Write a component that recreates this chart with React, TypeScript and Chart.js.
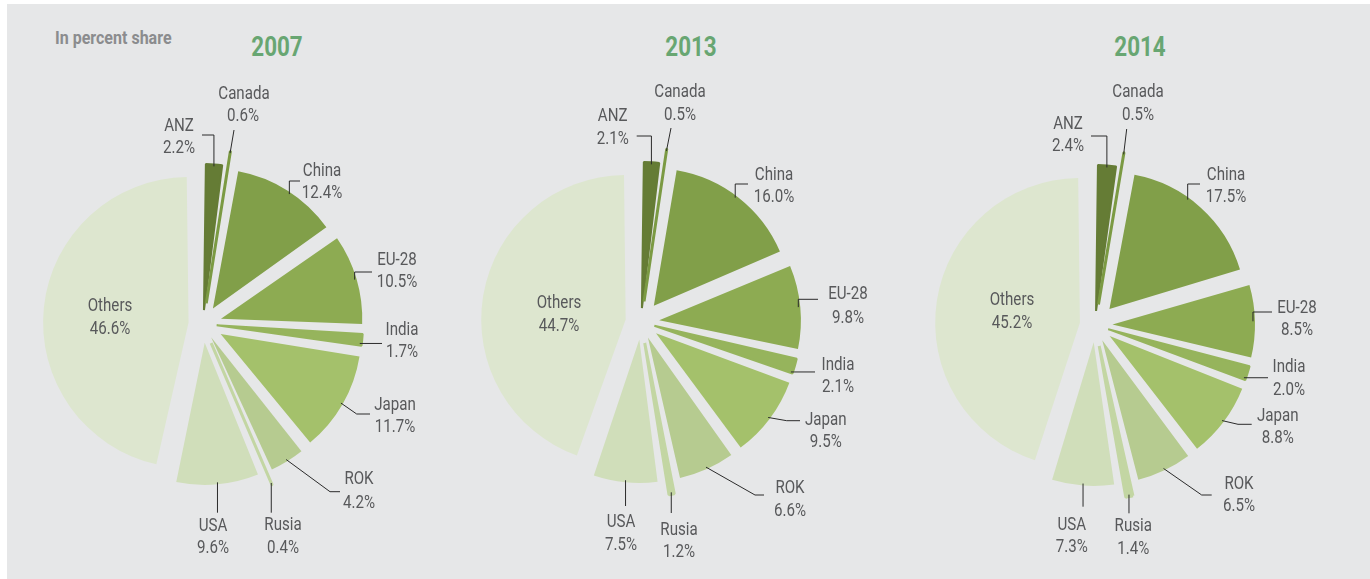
import React, { useEffect, useRef } from "react";
import { Chart, registerables } from "chart.js";

Chart.register(...registerables);

// ---------- data ----------
const categories = ["ANZ", "Canada", "China", "EU-28", "India", "Japan", "ROK", "Rusia", "USA", "Others"];
const years = ["2007", "2013", "2014"];
const values2007 = [2.2, 0.6, 12.4, 10.5, 1.7, 11.7, 4.2, 0.4, 9.6, 46.6];
const values2013 = [2.1, 0.5, 16.0, 9.8, 2.1, 9.5, 6.6, 1.2, 7.5, 44.7];
const values2014 = [2.4, 0.5, 17.5, 8.5, 2.0, 8.8, 6.5, 1.4, 7.3, 45.2];
const subtitle = "In percent share";

// ---------- styles ----------
const sliceColors = ["#657c35", "#7b9a43", "#819f49", "#8dab52", "#96b45c", "#a4c16b", "#b6cb90", "#c3d6a3", "#d0deba", "#dde6cf"];
// same-colour outline that keeps the thin exploded slivers visible
const sliceBorder = [2, 3, 0, 0, 2, 0, 0, 3, 0, 0];
// target distance (px) from pie centre to the outer edge of each exploded slice
const sliceReach = [160, 175, 158, 160, 160, 161, 161, 175, 161, 160];
const baseRadius = 134;
const FONT = "Roboto, 'Liberation Sans', sans-serif";
const SQUEEZE = 0.84;
const TEXT_COLOR = "#58595b";
const LINE_COLOR = "#2b2b2b";

type Seg = { v?: number; h?: number; to?: [number, number] };
type LabelLayout = { name: [number, number]; value: [number, number]; line?: Seg[]; frac?: number };

const centers: [number, number][] = [[203, 324], [641, 322], [1095, 325]];
const titlePos: [number, number][] = [[277, 47], [691, 47], [1140, 47]];

const layout2007: LabelLayout[] = [
  { name: [179, 126], value: [179, 148], line: [{ v: 135 }, { h: 202 }] },
  { name: [244, 94], value: [243, 116], line: [{ to: [234, 130] }] },
  { name: [322, 171], value: [322, 193], line: [{ v: 181 }, { h: 300 }], frac: 0.53 },
  { name: [397, 260], value: [397, 282], line: [{ v: 272 }, { h: 372 }] },
  { name: [402, 330], value: [402, 352], line: [{ h: 382 }], frac: 0.75 },
  { name: [395, 405], value: [395, 427], line: [{ to: [356.7, 414] }, { h: 370 }] },
  { name: [359, 479], value: [359, 503], line: [{ to: [330, 491.7] }, { h: 340 }] },
  { name: [283, 525], value: [283, 548], line: [{ v: 512.7 }] },
  { name: [213, 526], value: [213, 548], line: [{ v: 512.7 }] },
  { name: [110, 306], value: [110, 329] },
];
const layout2013: LabelLayout[] = [
  { name: [612.7, 116.7], value: [612.7, 139], line: [{ v: 136 }, { h: 636.7 }] },
  { name: [680, 92.3], value: [680, 115], line: [{ to: [671, 128] }] },
  { name: [774, 175], value: [774, 197], line: [{ v: 184 }, { h: 748 }], frac: 0.48 },
  { name: [848, 294], value: [848, 318], line: [{ v: 299.3 }, { h: 818 }] },
  { name: [838, 365], value: [838, 387], line: [{ h: 815 }], frac: 0.85 },
  { name: [825.7, 420.7], value: [825.7, 442.7], line: [{ to: [786.7, 420.7] }, { h: 800 }] },
  { name: [790, 488], value: [790, 511], line: [{ to: [755, 495] }, { h: 764 }] },
  { name: [679, 530], value: [679, 552.7], line: [{ v: 513 }] },
  { name: [621, 522.7], value: [621, 545], line: [{ v: 506 }] },
  { name: [559, 303], value: [559, 326] },
];
const layout2014: LabelLayout[] = [
  { name: [1068, 124], value: [1068, 146], line: [{ v: 136 }, { h: 1091 }] },
  { name: [1138, 92.3], value: [1138, 115], line: [{ to: [1126.7, 129] }] },
  { name: [1226, 175], value: [1226, 197.7], line: [{ v: 184 }, { h: 1200 }], frac: 0.4 },
  { name: [1297, 308], value: [1297, 330], line: [{ v: 312 }, { h: 1272 }] },
  { name: [1289, 367.7], value: [1289, 390.7], line: [{ h: 1268 }], frac: 0.8 },
  { name: [1277.7, 416.7], value: [1277.7, 438.3], line: [{ to: [1238, 424.3] }, { h: 1251.7 }] },
  { name: [1239, 484], value: [1239, 506], line: [{ to: [1201.7, 495] }, { h: 1211.7 }] },
  { name: [1133.3, 526.7], value: [1133.3, 549.3], line: [{ v: 513.3 }] },
  { name: [1071.7, 525], value: [1071.7, 547.7], line: [{ v: 506.7 }] },
  { name: [1012, 300], value: [1012, 323] },
];

const seriesValues = [values2007, values2013, values2014];
const layouts = [layout2007, layout2013, layout2014];

const W = 1370;
const H = 579;

function offsetsFor(values: number[]): number[] {
  const total = values.reduce((a, b) => a + b, 0);
  return values.map((v, i) => {
    const circ = (v / total) * Math.PI * 2;
    const fix = 1 - Math.sin(Math.min(Math.PI, circ));
    return (4 * (sliceReach[i] - baseRadius)) / (1 + fix);
  });
}

function drawSqueezed(ctx: CanvasRenderingContext2D, text: string, x: number, y: number) {
  ctx.save();
  ctx.translate(x, y);
  ctx.scale(SQUEEZE, 1);
  ctx.fillText(text, 0, 0);
  ctx.restore();
}

const pieLabelsPlugin = {
  id: "pieLabels",
  afterDraw(chart: any, _args: any, opts: any) {
    const lay: LabelLayout[] = opts.layout;
    const vals: number[] = opts.values;
    if (!lay) return;
    const ctx = chart.ctx as CanvasRenderingContext2D;
    const meta = chart.getDatasetMeta(0);
    ctx.save();
    ctx.strokeStyle = LINE_COLOR;
    ctx.lineWidth = 1;
    meta.data.forEach((el: any, i: number) => {
      const L = lay[i];
      if (!L || !L.line) return;
      const p = el.getProps(["x", "y", "startAngle", "endAngle", "outerRadius", "circumference"], true);
      const off = (el.options.offset || 0) / 4;
      const mid = (p.startAngle + p.endAngle) / 2;
      const fix = 1 - Math.sin(Math.min(Math.PI, p.circumference));
      const tx = p.x + Math.cos(mid) * off;
      const ty = p.y + Math.sin(mid) * off;
      const R = p.outerRadius + off * fix - 2;
      const a = p.startAngle + (p.endAngle - p.startAngle) * (L.frac ?? 0.5);
      let cx = tx + Math.cos(a) * R;
      let cy = ty + Math.sin(a) * R;
      ctx.beginPath();
      ctx.moveTo(cx, cy);
      L.line.forEach((s) => {
        if (s.v !== undefined) cy = s.v;
        else if (s.h !== undefined) cx = s.h;
        else if (s.to) { cx = s.to[0]; cy = s.to[1]; }
        ctx.lineTo(cx, cy);
      });
      ctx.stroke();
    });
    ctx.fillStyle = TEXT_COLOR;
    ctx.font = `18px ${FONT}`;
    ctx.textAlign = "center";
    ctx.textBaseline = "middle";
    lay.forEach((L, i) => {
      drawSqueezed(ctx, categories[i], L.name[0], L.name[1]);
      drawSqueezed(ctx, `${vals[i].toFixed(1)}%`, L.value[0], L.value[1]);
    });
    ctx.restore();
  },
};

function PieCanvas({ index }: { index: number }) {
  const ref = useRef<HTMLCanvasElement | null>(null);
  useEffect(() => {
    if (!ref.current) return;
    const values = seriesValues[index];
    const [cx, cy] = centers[index];
    const half = 200;
    const chart = new Chart(ref.current, {
      type: "pie",
      data: {
        labels: categories,
        datasets: [
          {
            data: values,
            backgroundColor: sliceColors,
            borderColor: sliceColors,
            borderWidth: sliceBorder,
            offset: offsetsFor(values),
          } as any,
        ],
      },
      options: {
        animation: false,
        responsive: false,
        events: [],
        radius: baseRadius,
        layout: {
          padding: { left: cx - half, right: W - cx - half, top: cy - half, bottom: H - cy - half },
        },
        plugins: {
          legend: { display: false },
          tooltip: { enabled: false },
          title: { display: false },
          pieLabels: { layout: layouts[index], values },
        } as any,
      } as any,
      plugins: [pieLabelsPlugin],
    });
    return () => chart.destroy();
  }, [index]);
  return (
    <canvas
      ref={ref}
      width={W}
      height={H}
      style={{ position: "absolute", left: 0, top: 0, width: W, height: H }}
    />
  );
}

export default function App() {
  return (
    <div style={{ position: "fixed", left: 0, top: 0, width: W, height: H, background: "#ffffff", overflow: "hidden" }}>
      <div style={{ position: "absolute", left: 7, top: 4, right: 0, bottom: 0, background: "#e6e7e8" }} />
      <div
        style={{
          position: "absolute",
          left: 55,
          top: 38,
          transform: `translateY(-50%) scaleX(0.89)`,
          transformOrigin: "left center",
          fontFamily: FONT,
          fontWeight: 700,
          fontSize: 18,
          color: "#8b8c8e",
          whiteSpace: "nowrap",
          lineHeight: 1,
        }}
      >
        {subtitle}
      </div>
      {years.map((y, i) => (
        <div
          key={y}
          style={{
            position: "absolute",
            left: titlePos[i][0],
            top: titlePos[i][1],
            transform: `translate(-50%, -50%) scaleX(0.83)`,
            fontFamily: FONT,
            fontWeight: 700,
            fontSize: 27,
            color: "#68a672",
            whiteSpace: "nowrap",
            lineHeight: 1,
          }}
        >
          {y}
        </div>
      ))}
      {years.map((y, i) => (
        <PieCanvas key={y} index={i} />
      ))}
    </div>
  );
}
